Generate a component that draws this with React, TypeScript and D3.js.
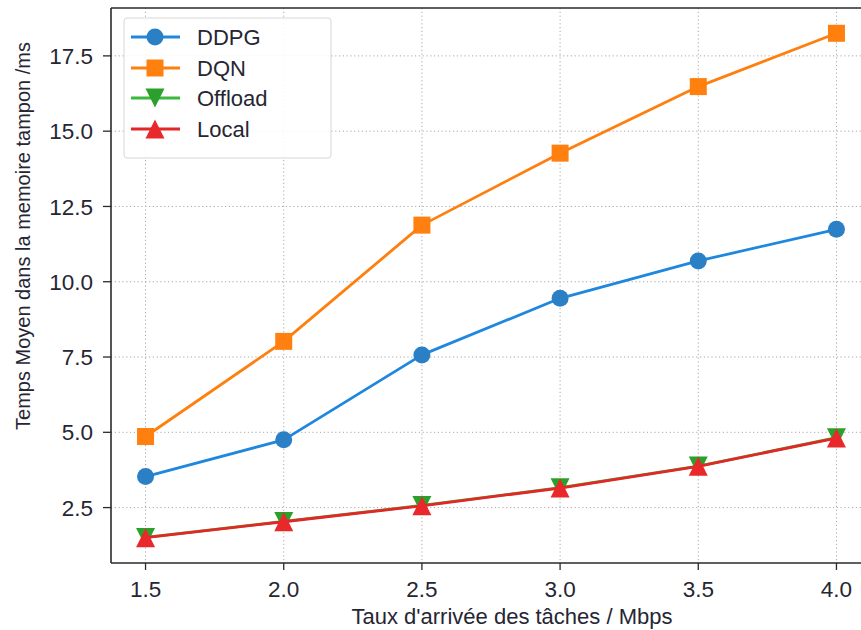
import React from "react";
import * as d3 from "d3";

const rates = [1.5, 2.0, 2.5, 3.0, 3.5, 4.0];
const ddpg = [3.53, 4.75, 7.57, 9.45, 10.69, 11.74];
const dqn = [4.86, 8.02, 11.88, 14.27, 16.48, 18.25];
const offload = [1.51, 2.04, 2.57, 3.16, 3.88, 4.82];
const local = [1.5, 2.03, 2.56, 3.15, 3.87, 4.81];
const xTicks = [1.5, 2.0, 2.5, 3.0, 3.5, 4.0];
const yTicks = [2.5, 5.0, 7.5, 10.0, 12.5, 15.0, 17.5];

const W = 861;
const H = 630;
const left = 111;
const top = 8;
const bottom = 563;
const right = 871;

const x = d3.scaleLinear().domain([1.375, 4.125]).range([left, right]);
const y = d3.scaleLinear().domain([0.66, 19.09]).range([bottom, top]);

type Marker = "circle" | "square" | "down" | "up";

interface Series {
  name: string;
  values: number[];
  line: string;
  fill: string;
  marker: Marker;
}

const series: Series[] = [
  { name: "DDPG", values: ddpg, line: "#1f87de", fill: "#2b80c5", marker: "circle" },
  { name: "DQN", values: dqn, line: "#ff7f0e", fill: "#ff800e", marker: "square" },
  { name: "Offload", values: offload, line: "#3cb83c", fill: "#2ca02c", marker: "down" },
  { name: "Local", values: local, line: "#e32626", fill: "#e8282a", marker: "up" },
];

const font = "'Liberation Sans', Arial, sans-serif";
const textColor = "#262633";

function MarkerShape({ kind, cx, cy, fill }: { kind: Marker; cx: number; cy: number; fill: string }) {
  if (kind === "circle") return <circle cx={cx} cy={cy} r={8.5} fill={fill} />;
  if (kind === "square")
    return <rect x={cx - 8.5} y={cy - 8.5} width={17} height={17} fill={fill} />;
  const s = 9.5;
  const pts =
    kind === "up"
      ? [[cx, cy - s], [cx - s, cy + s], [cx + s, cy + s]]
      : [[cx, cy + s], [cx - s, cy - s], [cx + s, cy - s]];
  return <polygon points={pts.map((p) => p.join(",")).join(" ")} fill={fill} />;
}

export default function App() {
  const line = d3
    .line<number>()
    .x((_, i) => x(rates[i]))
    .y((d) => y(d));

  const legendRows = [37, 68, 98, 129];

  return (
    <div style={{ position: "fixed", left: 0, top: 0 }}>
      <svg width={W} height={H} style={{ display: "block", background: "#fff" }}>
        <defs>
          <clipPath id="plot">
            <rect x={left} y={top} width={right - left} height={bottom - top} />
          </clipPath>
        </defs>

        {/* grid */}
        {xTicks.map((t) => (
          <line
            key={"gx" + t}
            x1={x(t)}
            x2={x(t)}
            y1={top}
            y2={bottom}
            stroke="#a8a8a8"
            strokeWidth={1}
            strokeDasharray="1.2,2.6"
          />
        ))}
        {yTicks.map((t) => (
          <line
            key={"gy" + t}
            x1={left}
            x2={right}
            y1={y(t)}
            y2={y(t)}
            stroke="#a8a8a8"
            strokeWidth={1}
            strokeDasharray="1.2,2.6"
          />
        ))}

        {/* series */}
        <g clipPath="url(#plot)">
          {series.map((s) => (
            <g key={s.name}>
              <path d={line(s.values) || ""} fill="none" stroke={s.line} strokeWidth={2.8} strokeLinejoin="round" />
              {s.values.map((v, i) => (
                <MarkerShape key={i} kind={s.marker} cx={x(rates[i])} cy={y(v)} fill={s.fill} />
              ))}
            </g>
          ))}
        </g>

        {/* spines */}
        <line x1={left} x2={left} y1={top} y2={bottom} stroke="#2a2a2a" strokeWidth={1.6} />
        <line x1={left} x2={right} y1={bottom} y2={bottom} stroke="#2a2a2a" strokeWidth={1.6} />
        <line x1={left} x2={right} y1={top} y2={top} stroke="#2a2a2a" strokeWidth={1.6} />

        {/* x ticks */}
        {xTicks.map((t) => (
          <g key={"xt" + t}>
            <line x1={x(t)} x2={x(t)} y1={bottom} y2={bottom + 7} stroke="#2a2a2a" strokeWidth={1.3} />
            <text
              x={x(t)}
              y={597}
              textAnchor="middle"
              fontFamily={font}
              fontSize={22.5}
              fill={textColor}
            >
              {t.toFixed(1)}
            </text>
          </g>
        ))}

        {/* y ticks */}
        {yTicks.map((t) => (
          <g key={"yt" + t}>
            <line x1={left - 8} x2={left} y1={y(t)} y2={y(t)} stroke="#2a2a2a" strokeWidth={1.3} />
            <text
              x={left - 18}
              y={y(t)}
              dy="0.36em"
              textAnchor="end"
              fontFamily={font}
              fontSize={22.5}
              fill={textColor}
            >
              {t.toFixed(1)}
            </text>
          </g>
        ))}

        {/* axis titles */}
        <text
          x={512}
          y={624}
          textAnchor="middle"
          fontFamily={font}
          fontSize={22}
          fill={textColor}
        >
          Taux d'arrivée des tâches / Mbps
        </text>
        <text
          transform={`translate(30,236) rotate(-90)`}
          textAnchor="middle"
          fontFamily={font}
          fontSize={20}
          fill={textColor}
        >
          Temps Moyen dans la memoire tampon /ms
        </text>

        {/* legend */}
        <rect x={124} y={18} width={207} height={140} rx={3} fill="#fff" fillOpacity={0.85} stroke="#d6d6d6" strokeWidth={1} />
        {series.map((s, i) => {
          const cy = legendRows[i];
          return (
            <g key={"lg" + s.name}>
              <line x1={131} x2={180} y1={cy} y2={cy} stroke={s.line} strokeWidth={2.8} />
              <MarkerShape kind={s.marker} cx={155} cy={cy} fill={s.fill} />
              <text x={197} y={cy} dy="0.36em" fontFamily={font} fontSize={22} fill={textColor}>
                {s.name}
              </text>
            </g>
          );
        })}
      </svg>
    </div>
  );
}
